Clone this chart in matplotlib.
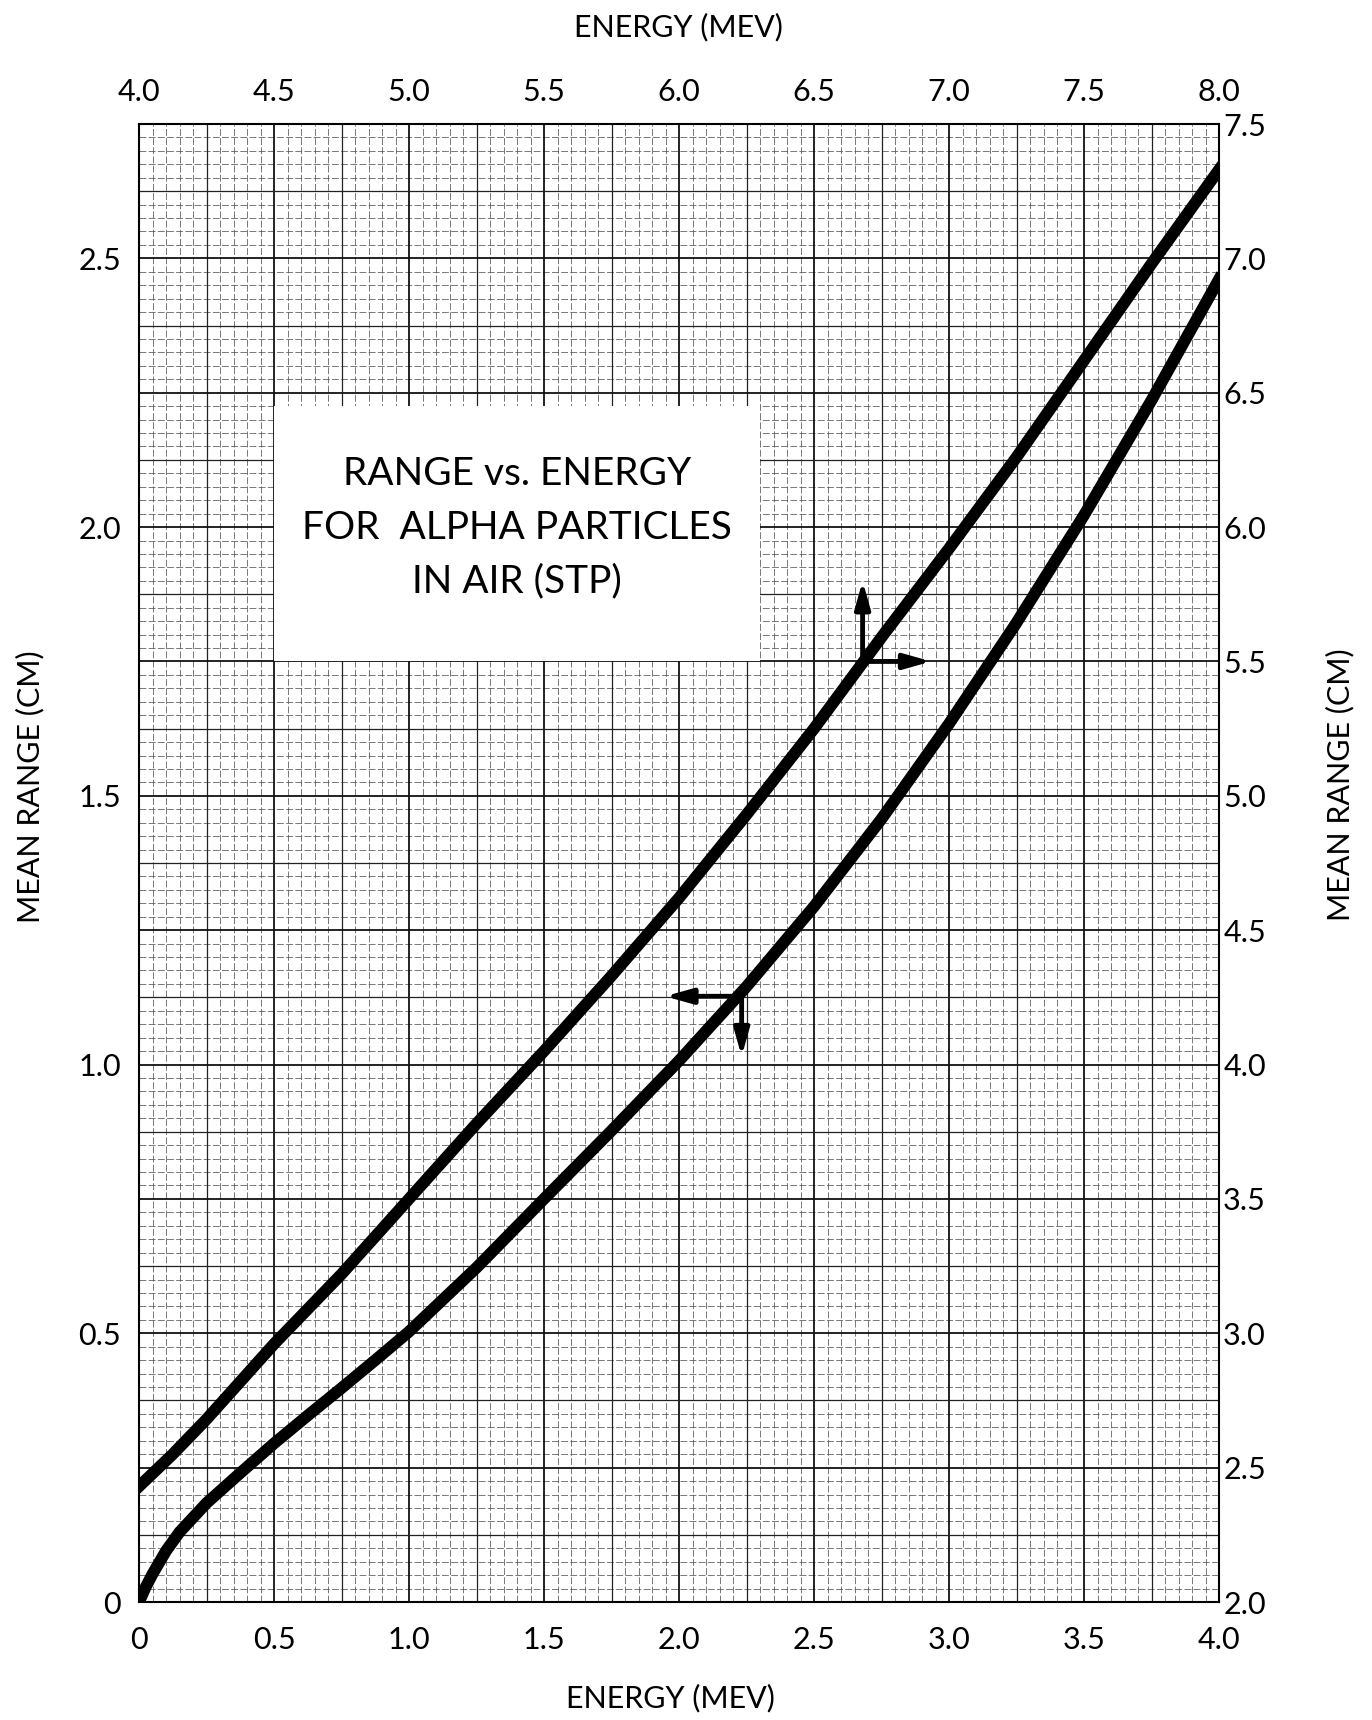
import matplotlib
matplotlib.use("Agg")
import matplotlib.pyplot as plt
from matplotlib.patches import Rectangle

plt.rcParams["font.family"] = ["Lato", "DejaVu Sans"]

# lower curve: bottom axis (MeV) vs left axis (cm)
energy_low = [0.0, 0.025, 0.05, 0.1, 0.15, 0.25, 0.375, 0.5, 0.625, 0.75, 0.875, 1.0,
              1.25, 1.5, 1.75, 2.0, 2.25, 2.5, 2.75, 3.0, 3.25, 3.5, 3.75, 4.0]
range_low = [0.0, 0.028, 0.052, 0.095, 0.13, 0.184, 0.24, 0.295, 0.347, 0.398, 0.45, 0.503,
             0.622, 0.75, 0.877, 1.007, 1.145, 1.294, 1.457, 1.634, 1.822, 2.022, 2.236, 2.461]

# upper curve: top axis (MeV) vs right axis (cm)
energy_high = [4.0, 4.125, 4.25, 4.5, 4.75, 5.0, 5.25, 5.5, 5.75, 6.0, 6.25, 6.5, 6.75,
               7.0, 7.25, 7.5, 7.75, 8.0]
range_high = [2.43, 2.55, 2.68, 2.96, 3.22, 3.50, 3.78, 4.05, 4.33, 4.62, 4.93, 5.25, 5.59,
              5.92, 6.26, 6.62, 6.98, 7.33]

bottom_ticks = [0, 0.5, 1.0, 1.5, 2.0, 2.5, 3.0, 3.5, 4.0]
bottom_labels = ["0", "0.5", "1.0", "1.5", "2.0", "2.5", "3.0", "3.5", "4.0"]
left_ticks = [0, 0.5, 1.0, 1.5, 2.0, 2.5]
left_labels = ["0", "0.5", "1.0", "1.5", "2.0", "2.5"]
top_ticks = [4.0, 4.5, 5.0, 5.5, 6.0, 6.5, 7.0, 7.5, 8.0]
right_ticks = [2.0, 2.5, 3.0, 3.5, 4.0, 4.5, 5.0, 5.5, 6.0, 6.5, 7.0, 7.5]

title_lines = ["RANGE vs. ENERGY", "FOR  ALPHA PARTICLES", "IN AIR (STP)"]

fig = plt.figure(figsize=(13.72, 17.2), dpi=100)
L, R, B, T = 139 / 1372, 1219 / 1372, 1 - 1602 / 1720, 1 - 124 / 1720
ax = fig.add_axes([L, B, R - L, T - B])
ax.set_xlim(0, 4.0)
ax.set_ylim(0, 2.75)

# graph-paper grid (in bottom/left units)
for i in range(81):
    x = i * 0.05
    if i % 10 == 0:
        ax.axvline(x, color="#111", lw=1.3, zorder=1)
    elif i % 5 == 0:
        ax.axvline(x, color="#222", lw=0.9, zorder=1)
    else:
        ax.axvline(x, color="#555", lw=0.55, ls=(0, (9, 3)), zorder=0)
for j in range(111):
    y = j * 0.025
    if j % 10 == 0:
        ax.axhline(y, color="#111", lw=1.3, zorder=1)
    elif j % 5 == 0:
        ax.axhline(y, color="#222", lw=0.9, zorder=1)
    else:
        ax.axhline(y, color="#555", lw=0.55, ls=(0, (9, 3)), zorder=0)

# title box
ax.add_patch(Rectangle((0.5, 1.75), 1.8, 0.475, facecolor="white",
                       edgecolor="none", zorder=2))
for k, line in enumerate(title_lines):
    ax.text(1.4, 2.099 - 0.1 * k, line, ha="center", va="center",
            fontsize=28, zorder=3)

ax.plot(energy_low, range_low, color="black", lw=8.5,
        solid_capstyle="projecting", solid_joinstyle="round", zorder=4)

ax.set_xticks(bottom_ticks, bottom_labels)
ax.set_yticks(left_ticks, left_labels)
ax.tick_params(length=0, labelsize=22)
ax.tick_params(axis="x", pad=17)
ax.tick_params(axis="y", pad=13)
for s in ax.spines.values():
    s.set_linewidth(1.5)

ar = dict(arrowstyle="-|>,head_length=1.6,head_width=0.45", color="black",
          lw=3.5, shrinkA=0, shrinkB=0)
ax.annotate("", xy=(1.948, 1.127), xytext=(2.232, 1.127), arrowprops=ar, zorder=5)
ax.annotate("", xy=(2.232, 1.015), xytext=(2.232, 1.127), arrowprops=ar, zorder=5)

# top / right axes
ax2 = fig.add_axes(ax.get_position(), frameon=False)
ax2.set_xlim(4.0, 8.0)
ax2.set_ylim(2.0, 7.5)
ax2.patch.set_visible(False)
ax2.plot(energy_high, range_high, color="black", lw=8.5,
         solid_capstyle="projecting", solid_joinstyle="round", zorder=4)
ax2.xaxis.tick_top()
ax2.yaxis.tick_right()
ax2.set_xticks(top_ticks, [f"{v:.1f}" for v in top_ticks])
ax2.set_yticks(right_ticks, [f"{v:.1f}" for v in right_ticks])
ax2.tick_params(length=0, labelsize=22)
ax2.tick_params(axis="x", pad=13)
ax2.tick_params(axis="y", pad=3)
ax2.annotate("", xy=(6.68, 5.80), xytext=(6.68, 5.50), arrowprops=ar, zorder=5)
ax2.annotate("", xy=(6.935, 5.50), xytext=(6.68, 5.50), arrowprops=ar, zorder=5)

# axis titles
fig.text(670 / 1372, 1 - 1698 / 1720, "ENERGY (MEV)", ha="center", va="center", fontsize=22)
fig.text(678 / 1372, 1 - 27 / 1720, "ENERGY (MEV)", ha="center", va="center", fontsize=22)
fig.text(30 / 1372, 1 - 787 / 1720, "MEAN RANGE (CM)", ha="center", va="center",
         rotation=90, fontsize=22)
fig.text(1340 / 1372, 1 - 785 / 1720, "MEAN RANGE (CM)", ha="center", va="center",
         rotation=90, fontsize=22)

fig.savefig("out.png", dpi=100, facecolor="white")
